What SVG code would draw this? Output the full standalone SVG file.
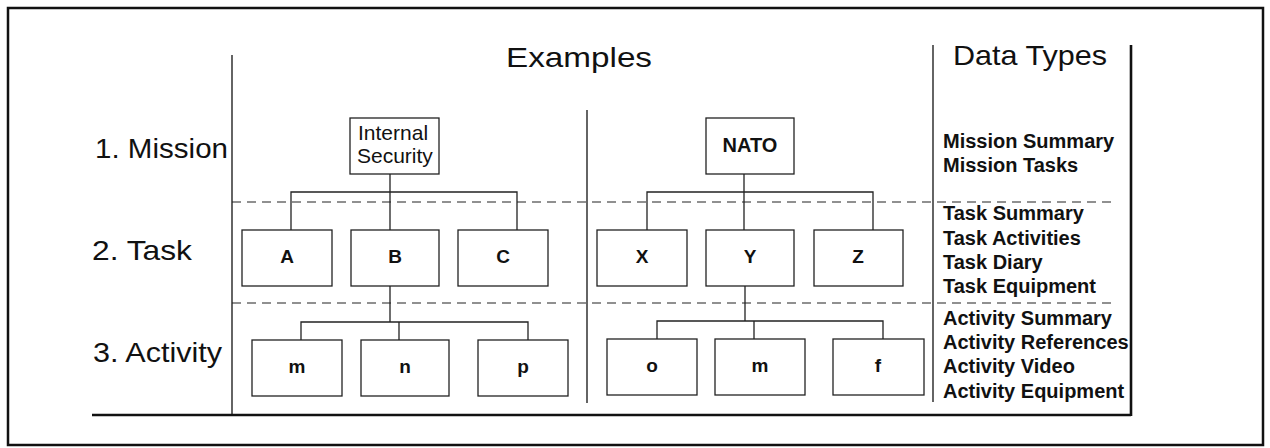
<svg xmlns="http://www.w3.org/2000/svg" width="1270" height="448" viewBox="0 0 1270 448">
<style>
.frame{fill:none;stroke:#111;stroke-width:2.5}
.rule{stroke:#111;stroke-width:1.3;fill:none}
.thick{stroke:#111;stroke-width:2.6;fill:none}
.dash{stroke:#222;stroke-width:1.2;stroke-dasharray:9 6;fill:none}
.box{fill:#fff;stroke:#222;stroke-width:1.3}
.conn{stroke:#222;stroke-width:1.3;fill:none}
.head{font-family:"Liberation Sans",Arial,sans-serif;font-size:28px;fill:#111}
.lbl{font-family:"Liberation Sans",Arial,sans-serif;font-weight:bold;font-size:19px;fill:#111;text-anchor:middle}
.mis{font-family:"Liberation Sans",Arial,sans-serif;font-size:21px;fill:#111}
.dt{font-family:"Liberation Sans",Arial,sans-serif;font-weight:bold;font-size:20px;fill:#111}
</style>
<rect width="1270" height="448" fill="#fff"/>
<g id="frame">
<rect class="frame" x="8" y="8" width="1255" height="437"/>
<line class="rule" x1="232" y1="55" x2="232" y2="415"/>
<line class="rule" x1="587" y1="110" x2="587" y2="403"/>
<line class="rule" x1="933" y1="45" x2="933" y2="402"/>
<line class="thick" x1="1131" y1="45" x2="1131" y2="416"/>
<line class="thick" x1="92" y1="415" x2="1131" y2="415"/>
<line class="dash" x1="232" y1="202" x2="1113" y2="202"/>
<line class="dash" x1="232" y1="303" x2="1113" y2="303"/>
</g>
<g id="headings">
<text class="head" x="506" y="67" textLength="146" lengthAdjust="spacingAndGlyphs">Examples</text>
<text class="head" x="953" y="65" textLength="154" lengthAdjust="spacingAndGlyphs">Data Types</text>
<text class="head" x="95" y="158" textLength="133" lengthAdjust="spacingAndGlyphs">1. Mission</text>
<text class="head" x="92" y="260" textLength="100" lengthAdjust="spacingAndGlyphs">2. Task</text>
<text class="head" x="93" y="362" textLength="129" lengthAdjust="spacingAndGlyphs">3. Activity</text>
</g>
<g id="connectors">
<path class="conn" d="M390 174V192M291 230V192H517V230M390 192V230"/>
<path class="conn" d="M390 286V322M301 340V322H528V340M399 322V340"/>
<path class="conn" d="M744 174V192M647 230V192H873V230M744 192V230"/>
<path class="conn" d="M745 286V321M657 339V321H883V339M754 321V339"/>
</g>
<g id="internal-security"><rect class="box" x="350" y="118" width="89" height="56"/><text class="mis" x="358" y="140">Internal</text><text class="mis" x="357" y="163">Security</text></g>
<g id="nato"><rect class="box" x="706" y="118" width="88" height="56"/><text class="lbl" x="750" y="152" style="font-size:20px">NATO</text></g>
<g id="task-a"><rect class="box" x="242" y="230" width="90" height="56"/><text class="lbl" x="287" y="263">A</text></g>
<g id="task-b"><rect class="box" x="351" y="230" width="88" height="56"/><text class="lbl" x="395" y="263">B</text></g>
<g id="task-c"><rect class="box" x="458" y="230" width="90" height="56"/><text class="lbl" x="503" y="263">C</text></g>
<g id="task-x"><rect class="box" x="597" y="230" width="90" height="56"/><text class="lbl" x="642" y="263">X</text></g>
<g id="task-y"><rect class="box" x="706" y="230" width="88" height="56"/><text class="lbl" x="750" y="263">Y</text></g>
<g id="task-z"><rect class="box" x="814" y="230" width="89" height="56"/><text class="lbl" x="858" y="263">Z</text></g>
<g id="act-m"><rect class="box" x="252" y="340" width="90" height="56"/><text class="lbl" x="297" y="373">m</text></g>
<g id="act-n"><rect class="box" x="361" y="340" width="88" height="56"/><text class="lbl" x="405" y="373">n</text></g>
<g id="act-p"><rect class="box" x="478" y="340" width="90" height="56"/><text class="lbl" x="523" y="373">p</text></g>
<g id="act-o"><rect class="box" x="607" y="339" width="90" height="56"/><text class="lbl" x="652" y="372">o</text></g>
<g id="act-m2"><rect class="box" x="715" y="339" width="90" height="56"/><text class="lbl" x="760" y="372">m</text></g>
<g id="act-f"><rect class="box" x="833" y="339" width="91" height="56"/><text class="lbl" x="878" y="372">f</text></g>
<g id="data-types">
<text class="dt" x="943" y="148">Mission Summary</text>
<text class="dt" x="943" y="172">Mission Tasks</text>
<text class="dt" x="943" y="220">Task Summary</text>
<text class="dt" x="943" y="245">Task Activities</text>
<text class="dt" x="943" y="269">Task Diary</text>
<text class="dt" x="943" y="293">Task Equipment</text>
<text class="dt" x="943" y="325">Activity Summary</text>
<text class="dt" x="943" y="349">Activity References</text>
<text class="dt" x="943" y="373">Activity Video</text>
<text class="dt" x="943" y="398">Activity Equipment</text>
</g>
</svg>
